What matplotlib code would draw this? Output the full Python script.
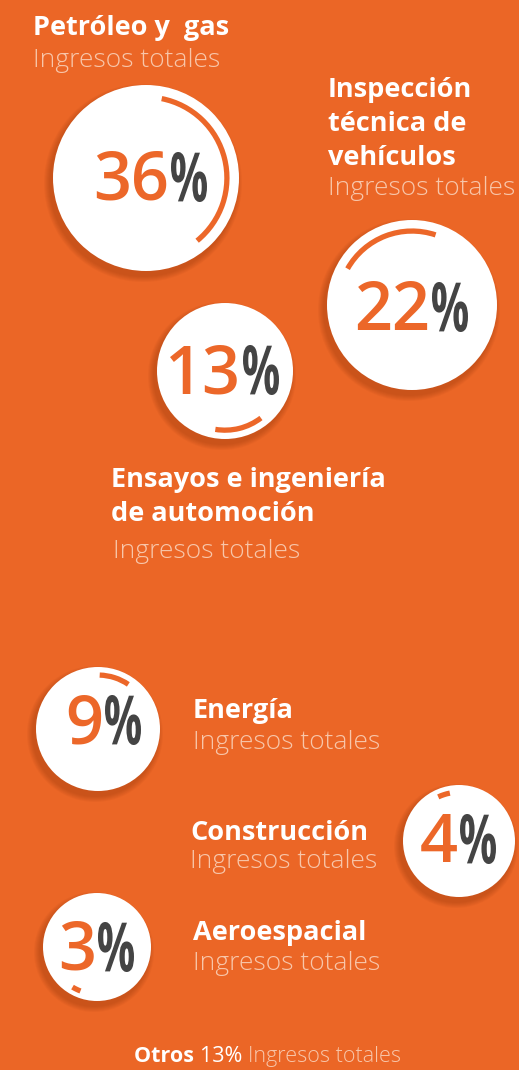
import matplotlib.pyplot as plt
from matplotlib.patches import Circle, Arc, PathPatch
from matplotlib.textpath import TextPath
from matplotlib.font_manager import FontProperties
from matplotlib.transforms import Affine2D

# data
sectors = [["Petróleo y  gas"], ["Inspección", "técnica de", "vehículos"],
           ["Ensayos e ingeniería", "de automoción"], ["Energía"], ["Construcción"], ["Aeroespacial"]]
shares = [36, 22, 13, 9, 4, 3]
otros_share = 13
subtitle = "Ingresos totales"

# layout (pixels, origin top-left)
centers = [(146, 178), (412, 305), (225, 371), (98, 729), (459, 841), (97, 947)]
radii = [93, 85, 68, 62, 56, 54]
arc_mid = [14, 111, -76, 72, 108, -116]   # where each arc sits on its ring (deg)
split_x = [169, 430, 241, 103, 458, 96]   # number | % boundary
num_base = [200, 330, 393, 743, 862, 970]
title_pos = [(33, 35), (328, 97), (111, 487), (193, 718), (190, 840), (193, 940)]
sub_pos = [(33, 67), (328, 195), (113, 558), (193, 749), (190, 868), (193, 970)]
line_gap = 34

bg = "#EB6626"
orange = "#EC6729"
dark = "#444444"
peach = "#F8C6AA"
font = "Open Sans"

fig = plt.figure(figsize=(5.19, 10.70), dpi=100)
fig.patch.set_facecolor(bg)
ax = fig.add_axes([0, 0, 1, 1])
ax.set_xlim(0, 519)
ax.set_ylim(1070, 0)
ax.axis("off")

# condensed percent sign built from a text path
pct_path = TextPath((0, 0), "%", size=1, prop=FontProperties(family=font, weight="bold"))
ext = pct_path.get_extents()


def draw_pct(x, base, w=36, h=50):
    sx = w / ext.width
    sy = h / ext.height
    tr = Affine2D().translate(-ext.x0, -ext.y0).scale(sx, -sy).translate(x, base + 2)
    ax.add_patch(PathPatch(tr.transform_path(pct_path), color=dark, lw=0, zorder=4))


for i, (c, r) in enumerate(zip(centers, radii)):
    # soft shadow
    for k in range(6):
        ax.add_patch(Circle((c[0] - 3, c[1] + 5), r + 6 - k, color="#7a2a05",
                            alpha=0.05, lw=0, zorder=1))
    ax.add_patch(Circle(c, r, color="white", lw=0, zorder=2))
    span = shares[i] * 3.6
    ar = r * 0.87
    ax.add_patch(Arc(c, 2 * ar, 2 * ar, theta1=-arc_mid[i] - span / 2,
                     theta2=-arc_mid[i] + span / 2, color=orange, lw=3.8, zorder=3))
    ax.text(split_x[i], num_base[i], str(shares[i]), color=orange, fontsize=48,
            fontweight="semibold", family=font, ha="right", va="baseline", zorder=4)
    draw_pct(split_x[i] + 2, num_base[i])

for i, lines in enumerate(sectors):
    x, y = title_pos[i]
    for j, line in enumerate(lines):
        ax.text(x, y + j * line_gap, line, color="white", fontsize=19.5, fontweight="bold",
                family=font, ha="left", va="baseline")
    x, y = sub_pos[i]
    ax.text(x, y, subtitle, color=peach, fontsize=19, fontweight="light", family=font,
            ha="left", va="baseline")

# Otros line
t1 = ax.text(134, 1062, "Otros ", color="white", fontsize=15.5, fontweight="bold",
             family=font, ha="left", va="baseline")
fig.canvas.draw()
bb = t1.get_window_extent()
x2 = ax.transData.inverted().transform((bb.x1, bb.y0))[0]
t2 = ax.text(x2, 1062, f"{otros_share}% ", color="white", fontsize=15.5,
             family=font, ha="left", va="baseline")
fig.canvas.draw()
bb = t2.get_window_extent()
x3 = ax.transData.inverted().transform((bb.x1, bb.y0))[0]
ax.text(x3, 1062, subtitle, color=peach, fontsize=15.5, fontweight="light",
        family=font, ha="left", va="baseline")

fig.savefig("out.png", dpi=100, facecolor=bg)
